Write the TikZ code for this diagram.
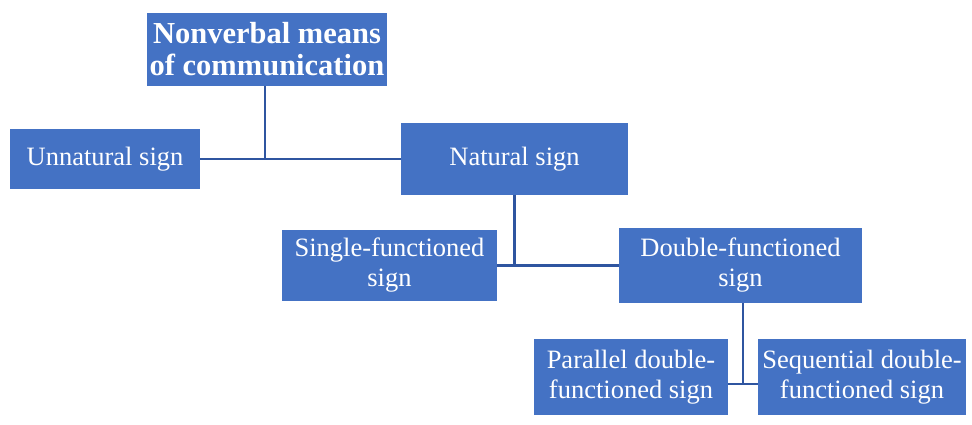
\documentclass[tikz,border=0pt]{standalone}
\usepackage{fontspec}
\setmainfont{Liberation Serif}
\definecolor{boxblue}{HTML}{4472C4}
\definecolor{lineblue}{HTML}{2F55A0}
\begin{document}
\begin{tikzpicture}[x=1pt,y=1pt,
  box/.style={fill=boxblue,draw=none,text=white,align=center,inner sep=0pt,
    font=\fontsize{26.5}{30}\selectfont},
  link/.style={draw=lineblue,line width=2.6pt}]
\useasboundingbox[fill=white] (0,0) rectangle (972,-425);
\node[box,minimum width=240,minimum height=73,font=\bfseries\fontsize{30.5}{32}\selectfont] (top) at (267,-49.5) {Nonverbal means\\of communication};
\node[box,minimum width=190,minimum height=59] (un) at (105,-159) {Unnatural sign};
\node[box,minimum width=227,minimum height=71] (nat) at (514.5,-159) {Natural sign};
\node[box,minimum width=215,minimum height=71] (sgl) at (389.5,-265.5) {Single-functioned\\sign};
\node[box,minimum width=243,minimum height=75] (dbl) at (740.5,-265.5) {Double-functioned\\sign};
\node[box,minimum width=194,minimum height=76] (par) at (631,-377) {Parallel double-\\functioned sign};
\node[box,minimum width=208,minimum height=76] (seq) at (862,-377) {Sequential double-\\functioned sign};
\coordinate (j1) at (265,-159);
\coordinate (j2) at (514.5,-265.5);
\coordinate (j3) at (743,-384);
\draw[link] (top.south -| j1) -- (j1);
\draw[link] (un.east) -- (nat.west);
\draw[link] (nat.south) -- (j2);
\draw[link] (sgl.east) -- (dbl.west);
\draw[link] (dbl.south -| j3) -- (j3);
\draw[link] (par.east |- j3) -- (seq.west |- j3);
\end{tikzpicture}
\end{document}
